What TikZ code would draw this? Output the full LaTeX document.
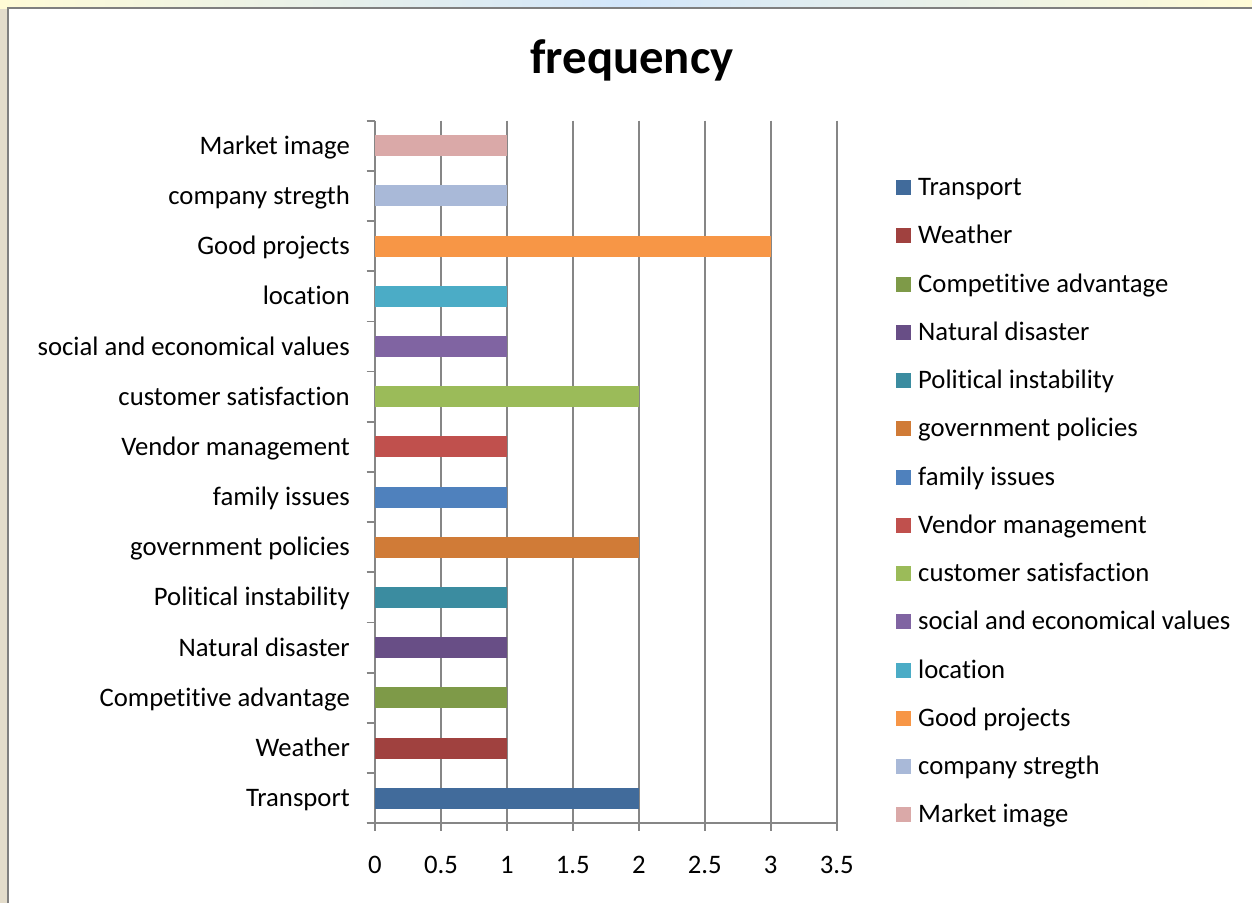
\documentclass[tikz,border=0pt]{standalone}
\usepackage{fontspec}
\setmainfont{Carlito}[Ligatures=NoCommon]
\definecolor{c1}{HTML}{416B9B}
\definecolor{c2}{HTML}{A0413F}
\definecolor{c3}{HTML}{7E9A48}
\definecolor{c4}{HTML}{684E86}
\definecolor{c5}{HTML}{3B8CA0}
\definecolor{c6}{HTML}{D07B37}
\definecolor{c7}{HTML}{4F81BD}
\definecolor{c8}{HTML}{C0504D}
\definecolor{c9}{HTML}{9BBB59}
\definecolor{c10}{HTML}{8064A2}
\definecolor{c11}{HTML}{4BACC6}
\definecolor{c12}{HTML}{F79646}
\definecolor{c13}{HTML}{A9B9D8}
\definecolor{c14}{HTML}{DAA9A8}
\definecolor{gridgray}{HTML}{868686}
\definecolor{framegray}{HTML}{7F7F7F}
\definecolor{bgbeige}{HTML}{E3DCCB}
\definecolor{bgyellow}{HTML}{FFFBD6}
\definecolor{bgblue}{HTML}{D2E6FB}
\begin{document}
\begin{tikzpicture}[x=1pt,y=-1pt,
  gridline/.style={draw=gridgray,line width=1.8pt},
  ylab/.style={anchor=base east,inner sep=0pt,font=\fontsize{26.7}{30}\selectfont},
  leglab/.style={anchor=base west,inner sep=0pt,font=\fontsize{26.7}{30}\selectfont},
  xlab/.style={anchor=base,inner sep=0pt,font=\fontsize{26.7}{30}\selectfont},
  titlestyle/.style={anchor=base,inner sep=0pt,font=\fontsize{48.7}{54}\selectfont\bfseries}]
\useasboundingbox (0,0) rectangle (1252,903);
% background
\fill[bgbeige] (0,0) rectangle (1252,903);
\shade[left color=bgyellow,right color=bgyellow,middle color=bgblue] (0,0) rectangle (1252,8);
\fill[white] (8,8) rectangle (1252,903);
\draw[framegray,line width=2.6pt] (8,903) -- (8,8) -- (1252,8);
% title
\node[titlestyle] (title) at (632,73.3) {frequency};
% vertical gridlines and x labels
\foreach \i/\t in {0/0,1/0.5,2/1,3/1.5,4/2,5/2.5,6/3,7/3.5}{
  \draw[gridline] ({375+65.95*\i},120.7) -- ({375+65.95*\i},831);
  \node[xlab] (xl\i) at ({375+65.95*\i},873.3) {\t};
}
% category ticks on the value axis
\foreach \j in {0,...,14}{
  \draw[gridline] (366.7,{823.3-50.19*\j}) -- (375,{823.3-50.19*\j});
}
\draw[gridline] (366.7,823.3) -- (837,823.3);
% bars, category labels, legend
\foreach \lab/\val/\col [count=\k from 0] in {
  Transport/2/c1, Weather/1/c2, Competitive advantage/1/c3,
  Natural disaster/1/c4, Political instability/1/c5,
  government policies/2/c6, family issues/1/c7,
  Vendor management/1/c8, customer satisfaction/2/c9,
  social and economical values/1/c10, location/1/c11,
  Good projects/3/c12, company stregth/1/c13, Market image/1/c14}{
  \pgfmathsetmacro\yc{823.3-50.19*(\k+0.5)}
  \fill[\col] (375,\yc-10.5) rectangle ({375+131.9*\val},\yc+10.5);
  \node[ylab] (yl\k) at (350,\yc+8.5) {\lab};
  \pgfmathsetmacro\ly{187.7+48.23*\k}
  \fill[\col] (896,\ly-7.5) rectangle (911,\ly+7.5);
  \node[leglab] (lg\k) at (918,\ly+8) {\lab};
}
\end{tikzpicture}
\end{document}
